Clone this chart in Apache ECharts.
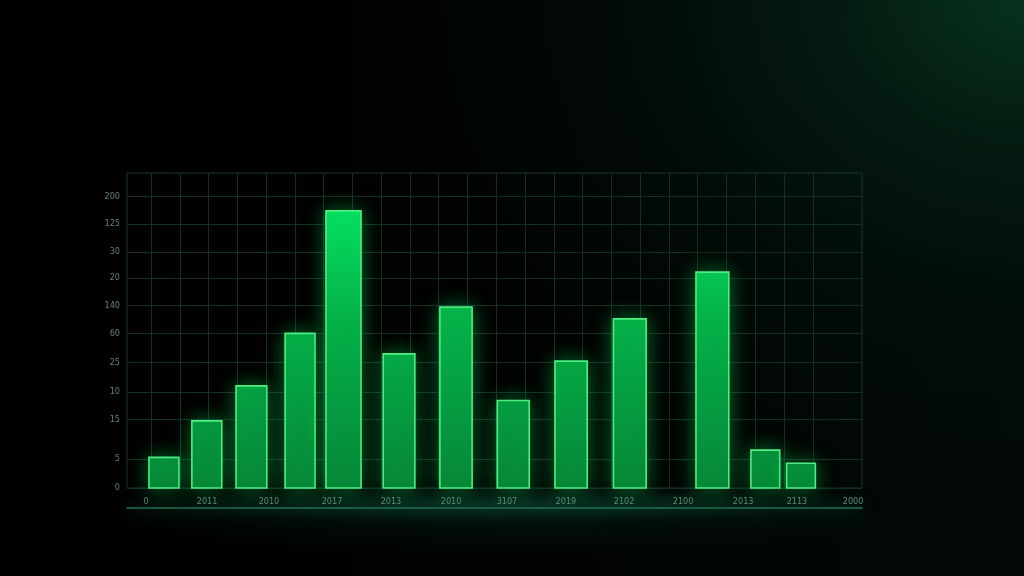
<!DOCTYPE html>
<html>
<head>
<meta charset="utf-8">
<script src="https://cdn.jsdelivr.net/npm/echarts@6/dist/echarts.min.js"></script>
<style>
  html, body { margin:0; padding:0; width:1024px; height:576px; overflow:hidden; }
  body {
    background:
      radial-gradient(ellipse 640px 480px at 100% 0%, rgba(8,54,33,0.9) 0%, rgba(5,36,22,0.65) 30%, rgba(2,18,11,0.38) 65%, rgba(0,0,0,0) 100%),
      radial-gradient(ellipse 380px 18px at 495px 504px, rgba(14,80,58,0.45) 0%, rgba(0,0,0,0) 100%),
      radial-gradient(ellipse 400px 36px at 495px 518px, rgba(6,40,28,0.35) 0%, rgba(0,0,0,0) 100%),
      linear-gradient(90deg, #000000 0%, #010302 50%, #020a06 100%);
  }
  #chart { width:1024px; height:576px; }
</style>
</head>
<body>
<div id="chart"></div>
<script>
// ---- data (x in grid-column units, y in value units) ----
const barCenters = [0.45, 1.94, 3.49, 5.18, 6.69, 8.62, 10.60, 12.59, 14.60, 16.64, 19.51, 21.35, 22.59];
const barValues  = [21, 46, 70, 106, 190, 92, 124, 60, 87, 116, 148, 26, 17];
const barWidths  = [1.04, 1.04, 1.07, 1.04, 1.22, 1.10, 1.12, 1.11, 1.12, 1.14, 1.14, 1.0, 1.0];

const xLabels     = ['0', '2011', '2010', '2017', '2013', '2010', '3107', '2019', '2102', '2100', '2013', '2113', '2000'];
const xLabelPos   = [-0.17, 1.95, 4.10, 6.29, 8.34, 10.43, 12.37, 14.42, 16.44, 18.49, 20.58, 22.45, 24.40];
const xGridLines  = [0,1,2,3,4,5,6,7,8,9,10,11,12,13,14,15,16,17,18,19,20,21,22,23];

const yLabels     = ['0', '5', '15', '10', '25', '60', '140', '20', '30', '125', '200'];
const yTickValues = [0, 20, 47, 66, 86, 106, 125, 144, 162, 181, 200];

const X_MIN = -0.834, X_MAX = 24.71, Y_MAX = 216;

const xLabelMap = {}; xLabelPos.forEach((v, i) => xLabelMap[v] = xLabels[i]);
const yLabelMap = {}; yTickValues.forEach((v, i) => yLabelMap[v] = yLabels[i]);

const chart = echarts.init(document.getElementById('chart'), null, { renderer: 'canvas' });

const seriesData = barCenters.map((c, i) => [c, barValues[i], barWidths[i]]);

const option = {
  backgroundColor: 'transparent',
  animation: false,
  grid: {
    left: 127, right: 162, top: 173, bottom: 88,
    show: true, borderColor: '#16372f', borderWidth: 1,
    containLabel: false, outerBoundsMode: 'none'
  },
  xAxis: [{
    type: 'value', min: X_MIN, max: X_MAX,
    axisLine: { show: false },
    axisTick: { show: false, customValues: xGridLines },
    splitLine: { show: true, lineStyle: { color: '#122e28', width: 1 } },
    axisLabel: {
      show: true, customValues: xLabelPos, margin: 9,
      color: '#5f8a7b', fontSize: 9, fontFamily: 'DejaVu Sans Condensed, DejaVu Sans, sans-serif',
      formatter: (v, i) => xLabelMap[v] !== undefined ? xLabelMap[v] : (xLabels[i] || '')
    }
  }, {
    type: 'value', min: X_MIN, max: X_MAX, position: 'bottom', offset: 20,
    axisLine: { show: true, lineStyle: { color: '#1e7058', width: 1.5, shadowBlur: 18, shadowColor: 'rgba(20,170,115,0.9)' } },
    axisTick: { show: false }, axisLabel: { show: false }, splitLine: { show: false }
  }],
  yAxis: {
    type: 'value', min: 0, max: Y_MAX,
    axisLine: { show: false },
    axisTick: { show: false, customValues: yTickValues },
    splitLine: { show: true, lineStyle: { color: '#122e28', width: 1 } },
    axisLabel: {
      show: true, customValues: yTickValues, margin: 7,
      color: '#65817a', fontSize: 9, fontFamily: 'DejaVu Sans Condensed, DejaVu Sans, sans-serif',
      formatter: (v, i) => yLabelMap[v] !== undefined ? yLabelMap[v] : (yLabels[i] || '')
    }
  },
  series: [{
    type: 'custom',
    xAxisIndex: 0, yAxisIndex: 0,
    data: seriesData,
    encode: { x: 0, y: 1 },
    renderItem: function (params, api) {
      const c = api.value(0), v = api.value(1), w = api.value(2);
      const p0 = api.coord([c - w / 2, v]);
      const p1 = api.coord([c + w / 2, 0]);
      const topY = api.coord([c, Y_MAX])[1];
      const fill = new echarts.graphic.LinearGradient(0, topY, 0, p1[1], [
        { offset: 0, color: '#06f06a' },
        { offset: 0.45, color: '#05b24a' },
        { offset: 1, color: '#078637' }
      ], true);
      return {
        type: 'rect',
        shape: { x: p0[0], y: p0[1], width: p1[0] - p0[0], height: p1[1] - p0[1] },
        style: {
          fill: fill, stroke: '#4fee80', lineWidth: 1.6,
          shadowBlur: 20, shadowColor: 'rgba(0,210,85,0.5)'
        }
      };
    }
  }]
};
chart.setOption(option);
</script>
</body>
</html>
